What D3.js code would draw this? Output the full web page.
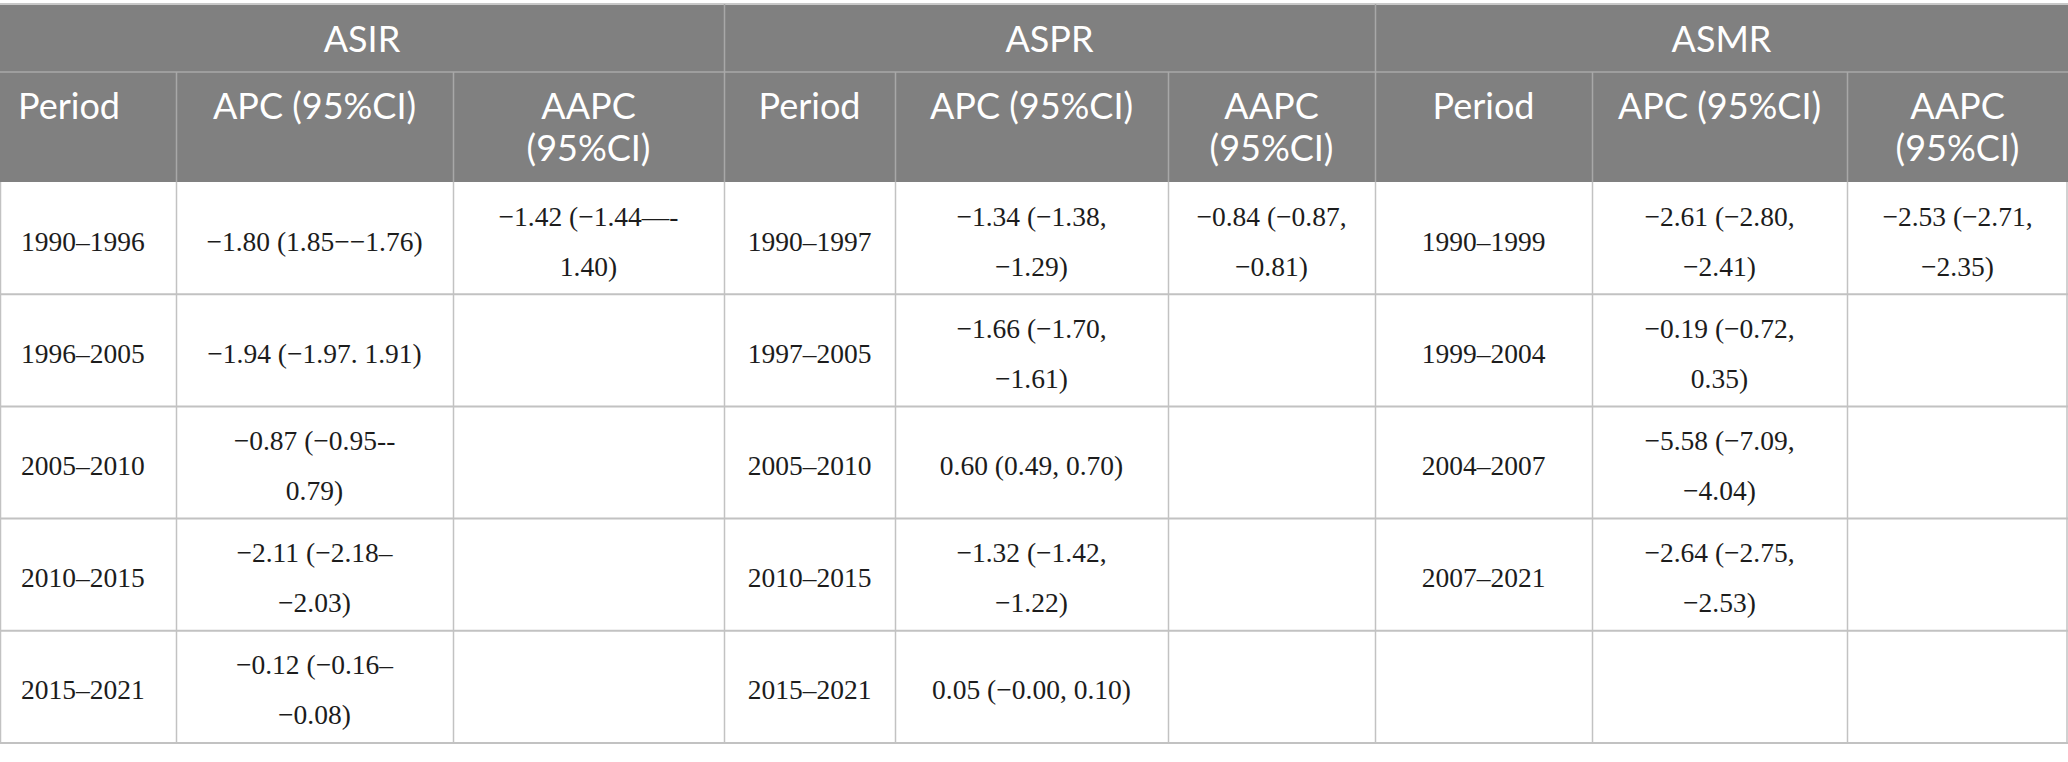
<!DOCTYPE html>
<html>
<head>
<meta charset="utf-8">
<script src="https://cdn.jsdelivr.net/npm/d3@7"></script>
<style>
  body { margin: 0; background: #fff; }
</style>
</head>
<body>
<div id="table"></div>
<script>
// table content (line breaks as in the source table)
var measures = ["ASIR", "ASPR", "ASMR"];
var subHeads = ["Period", "APC (95%CI)", "AAPC\n(95%CI)"];

var periodsASIR = ["1990–1996", "1996–2005", "2005–2010", "2010–2015", "2015–2021"];
var apcASIR = ["−1.80 (1.85−−1.76)", "−1.94 (−1.97. 1.91)", "−0.87 (−0.95--\n0.79)", "−2.11 (−2.18–\n−2.03)", "−0.12 (−0.16–\n−0.08)"];
var aapcASIR = ["−1.42 (−1.44—-\n1.40)", "", "", "", ""];

var periodsASPR = ["1990–1997", "1997–2005", "2005–2010", "2010–2015", "2015–2021"];
var apcASPR = ["−1.34 (−1.38,\n−1.29)", "−1.66 (−1.70,\n−1.61)", "0.60 (0.49, 0.70)", "−1.32 (−1.42,\n−1.22)", "0.05 (−0.00, 0.10)"];
var aapcASPR = ["−0.84 (−0.87,\n−0.81)", "", "", "", ""];

var periodsASMR = ["1990–1999", "1999–2004", "2004–2007", "2007–2021", ""];
var apcASMR = ["−2.61 (−2.80,\n−2.41)", "−0.19 (−0.72,\n0.35)", "−5.58 (−7.09,\n−4.04)", "−2.64 (−2.75,\n−2.53)", ""];
var aapcASMR = ["−2.53 (−2.71,\n−2.35)", "", "", "", ""];

// layout
var width = 2068, height = 762;
var colWidths = [176, 277, 271, 171, 273, 207, 217, 255, 221];
var colEdges = [0].concat(Array.from(d3.cumsum(colWidths)));
var top1 = 4, top2 = 72, bodyTop = 182, bodyBottom = 743;

var headerFill = "#808080",
  headerLine = "#a8a8a8",
  bodyLine = "#c2c2c2",
  textColor = "#1c1c1c";

var columns = [periodsASIR, apcASIR, aapcASIR,
  periodsASPR, apcASPR, aapcASPR,
  periodsASMR, apcASMR, aapcASMR];

var y = d3.scaleBand()
  .domain(d3.range(periodsASIR.length))
  .range([bodyTop, bodyBottom]);

var svg = d3.select("#table")
  .append("svg")
  .attr("width", width)
  .attr("height", height);

// header background
svg.append("rect")
  .attr("x", 0).attr("y", top1)
  .attr("width", width).attr("height", bodyTop - top1)
  .attr("fill", headerFill);

// header lines
svg.append("line")
  .attr("x1", 0).attr("x2", width)
  .attr("y1", top1).attr("y2", top1)
  .attr("stroke", "#c8c8c8").attr("stroke-width", 2);
svg.append("line")
  .attr("x1", 0).attr("x2", width)
  .attr("y1", top2).attr("y2", top2)
  .attr("stroke", headerLine).attr("stroke-width", 1.5);

svg.selectAll(".grpline")
  .data([3, 6])
  .enter().append("line")
  .attr("x1", d => colEdges[d] + 0.5).attr("x2", d => colEdges[d] + 0.5)
  .attr("y1", top1).attr("y2", top2)
  .attr("stroke", headerLine).attr("stroke-width", 1.5);

svg.selectAll(".subline")
  .data(d3.range(1, 9))
  .enter().append("line")
  .attr("x1", d => colEdges[d] + 0.5).attr("x2", d => colEdges[d] + 0.5)
  .attr("y1", top2).attr("y2", bodyTop)
  .attr("stroke", headerLine).attr("stroke-width", 1.5);

// header texts
var headFont = "Lato, 'Open Sans', sans-serif";
svg.selectAll(".measure")
  .data(measures)
  .enter().append("text")
  .attr("x", (d, i) => (colEdges[i * 3] + colEdges[i * 3 + 3]) / 2)
  .attr("y", 52)
  .attr("text-anchor", "middle")
  .attr("fill", "#fff")
  .style("font-family", headFont)
  .style("font-size", "36px")
  .text(d => d);

var subCells = [];
measures.forEach(function(m, g) {
  subHeads.forEach(function(s, k) {
    subCells.push({ col: g * 3 + k, text: s });
  });
});

svg.selectAll(".sub")
  .data(subCells)
  .enter().append("text")
  .attr("fill", "#fff")
  .attr("text-anchor", d => d.col === 0 ? "start" : "middle")
  .attr("transform", d => "translate(" + (d.col === 0 ? 18 : (colEdges[d.col] + colEdges[d.col + 1]) / 2) + ",119)")
  .style("font-family", headFont)
  .style("font-size", "36px")
  .selectAll("tspan")
  .data(d => d.text.split("\n"))
  .enter().append("tspan")
  .attr("x", 0)
  .attr("y", (d, i) => i * 42)
  .text(d => d);

// body grid
svg.selectAll(".rowline")
  .data(d3.range(1, periodsASIR.length + 1))
  .enter().append("line")
  .attr("x1", 0).attr("x2", width)
  .attr("y1", d => y(d - 1) + y.bandwidth()).attr("y2", d => y(d - 1) + y.bandwidth())
  .attr("stroke", bodyLine).attr("stroke-width", 2);

svg.selectAll(".colline")
  .data(d3.range(0, 10))
  .enter().append("line")
  .attr("x1", d => d === 9 ? width - 1 : colEdges[d] + 0.5)
  .attr("x2", d => d === 9 ? width - 1 : colEdges[d] + 0.5)
  .attr("y1", bodyTop).attr("y2", bodyBottom)
  .attr("stroke", bodyLine).attr("stroke-width", 1.5);

// body cells
var cells = [];
columns.forEach(function(col, c) {
  col.forEach(function(t, r) {
    if (t !== "") cells.push({ col: c, row: r, lines: t.split("\n") });
  });
});

svg.selectAll(".cell")
  .data(cells)
  .enter().append("text")
  .attr("fill", textColor)
  .attr("text-anchor", d => d.col === 0 ? "start" : "middle")
  .attr("transform", function(d) {
    var cx = d.col === 0 ? 21 : (colEdges[d.col] + colEdges[d.col + 1]) / 2;
    var cy = y(d.row) + y.bandwidth() / 2 + 12.5 - (d.lines.length - 1) * 25;
    return "translate(" + cx + "," + cy + ")";
  })
  .style("font-family", "'Liberation Serif', 'Times New Roman', serif")
  .style("font-size", "27.5px")
  .selectAll("tspan")
  .data(d => d.lines)
  .enter().append("tspan")
  .attr("x", 0)
  .attr("y", (d, i) => i * 50)
  .text(d => d);
</script>
</body>
</html>
